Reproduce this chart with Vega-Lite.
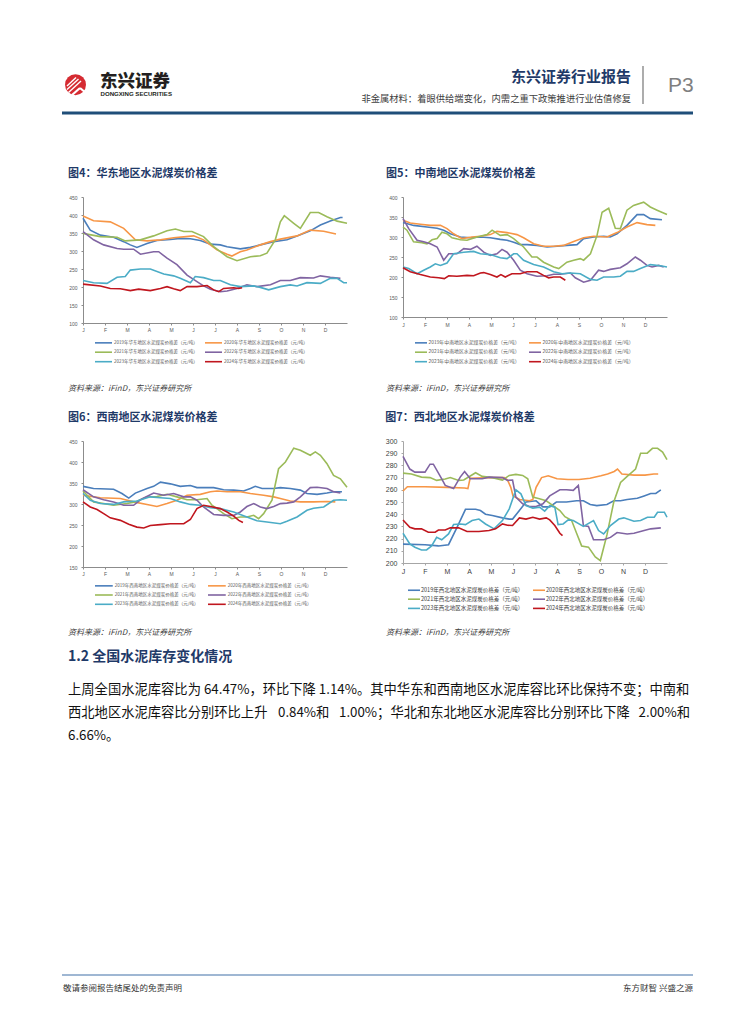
{
 "$schema": "https://vega.github.io/schema/vega-lite/v6.json",
 "padding": 0,
 "background": "white",
 "columns": 2,
 "spacing": {"row": 118, "column": 56},
 "bounds": "flush",
 "resolve": {"scale": {"color": "independent", "strokeWidth": "independent"}, "legend": {"color": "independent", "strokeWidth": "independent"}},
 "config": {"view": {"stroke": null}, "font": "Noto Sans CJK SC"},
 "datasets": {
  "d4": [
   {"year":"2019","month":0,"value":391},{"year":"2019","month":0.33,"value":358},{"year":"2019","month":0.79,"value":344},{"year":"2019","month":1.39,"value":338},{"year":"2019","month":1.85,"value":326},{"year":"2019","month":2.15,"value":317},{"year":"2019","month":2.45,"value":310},{"year":"2019","month":2.91,"value":321},{"year":"2019","month":3.36,"value":329},{"year":"2019","month":3.97,"value":332},{"year":"2019","month":4.42,"value":335},{"year":"2019","month":4.88,"value":334},{"year":"2019","month":5.33,"value":329},{"year":"2019","month":5.79,"value":319},{"year":"2019","month":6.24,"value":317},{"year":"2019","month":6.55,"value":312},{"year":"2019","month":7.15,"value":306},{"year":"2019","month":7.61,"value":310},{"year":"2019","month":8.06,"value":317},{"year":"2019","month":8.67,"value":326},{"year":"2019","month":9.27,"value":331},{"year":"2019","month":9.73,"value":342},{"year":"2019","month":10.33,"value":356},{"year":"2019","month":10.79,"value":372},{"year":"2019","month":11.24,"value":383},{"year":"2019","month":11.7,"value":393},{"year":"2019","month":11.8,"value":393},
   {"year":"2020","month":0,"value":397},{"year":"2020","month":0.48,"value":384},{"year":"2020","month":1.24,"value":381},{"year":"2020","month":1.85,"value":363},{"year":"2020","month":2.38,"value":331},{"year":"2020","month":2.91,"value":328},{"year":"2020","month":3.52,"value":331},{"year":"2020","month":4.12,"value":337},{"year":"2020","month":5.03,"value":342},{"year":"2020","month":5.48,"value":331},{"year":"2020","month":6.09,"value":303},{"year":"2020","month":6.55,"value":291},{"year":"2020","month":6.77,"value":286},{"year":"2020","month":7.15,"value":298},{"year":"2020","month":7.45,"value":303},{"year":"2020","month":8.06,"value":317},{"year":"2020","month":8.52,"value":326},{"year":"2020","month":8.97,"value":333},{"year":"2020","month":9.73,"value":342},{"year":"2020","month":10.33,"value":358},{"year":"2020","month":10.94,"value":355},{"year":"2020","month":11.5,"value":347},
   {"year":"2021","month":0,"value":349},{"year":"2021","month":0.79,"value":340},{"year":"2021","month":1.55,"value":338},{"year":"2021","month":1.92,"value":328},{"year":"2021","month":2.61,"value":331},{"year":"2021","month":3.21,"value":342},{"year":"2021","month":3.82,"value":356},{"year":"2021","month":4.2,"value":361},{"year":"2021","month":4.58,"value":354},{"year":"2021","month":4.95,"value":354},{"year":"2021","month":5.48,"value":340},{"year":"2021","month":5.94,"value":312},{"year":"2021","month":6.55,"value":284},{"year":"2021","month":7.0,"value":273},{"year":"2021","month":7.61,"value":284},{"year":"2021","month":8.06,"value":287},{"year":"2021","month":8.36,"value":294},{"year":"2021","month":8.74,"value":331},{"year":"2021","month":8.97,"value":381},{"year":"2021","month":9.15,"value":398},{"year":"2021","month":9.58,"value":377},{"year":"2021","month":9.88,"value":363},{"year":"2021","month":10.33,"value":407},{"year":"2021","month":10.71,"value":407},{"year":"2021","month":11.09,"value":395},{"year":"2021","month":11.55,"value":383},{"year":"2021","month":12,"value":377},
   {"year":"2022","month":0,"value":354},{"year":"2022","month":0.48,"value":331},{"year":"2022","month":0.94,"value":317},{"year":"2022","month":1.55,"value":307},{"year":"2022","month":1.85,"value":305},{"year":"2022","month":2.3,"value":305},{"year":"2022","month":2.61,"value":291},{"year":"2022","month":3.21,"value":298},{"year":"2022","month":3.44,"value":298},{"year":"2022","month":3.82,"value":280},{"year":"2022","month":4.27,"value":262},{"year":"2022","month":4.73,"value":233},{"year":"2022","month":5.18,"value":215},{"year":"2022","month":5.48,"value":203},{"year":"2022","month":5.79,"value":194},{"year":"2022","month":6.24,"value":187},{"year":"2022","month":6.55,"value":189},{"year":"2022","month":7.0,"value":196},{"year":"2022","month":7.45,"value":206},{"year":"2022","month":7.91,"value":201},{"year":"2022","month":8.52,"value":206},{"year":"2022","month":8.97,"value":218},{"year":"2022","month":9.42,"value":218},{"year":"2022","month":9.88,"value":226},{"year":"2022","month":10.48,"value":225},{"year":"2022","month":10.79,"value":231},{"year":"2022","month":11.24,"value":227},{"year":"2022","month":11.7,"value":224},
   {"year":"2023","month":0,"value":218},{"year":"2023","month":0.48,"value":212},{"year":"2023","month":1.09,"value":210},{"year":"2023","month":1.55,"value":227},{"year":"2023","month":1.92,"value":229},{"year":"2023","month":2.15,"value":247},{"year":"2023","month":2.61,"value":250},{"year":"2023","month":3.06,"value":250},{"year":"2023","month":3.67,"value":236},{"year":"2023","month":4.12,"value":231},{"year":"2023","month":4.42,"value":224},{"year":"2023","month":4.88,"value":212},{"year":"2023","month":5.1,"value":229},{"year":"2023","month":5.48,"value":226},{"year":"2023","month":5.94,"value":218},{"year":"2023","month":6.24,"value":218},{"year":"2023","month":6.7,"value":206},{"year":"2023","month":7.15,"value":201},{"year":"2023","month":7.76,"value":203},{"year":"2023","month":8.06,"value":199},{"year":"2023","month":8.44,"value":192},{"year":"2023","month":8.97,"value":201},{"year":"2023","month":9.42,"value":206},{"year":"2023","month":9.73,"value":203},{"year":"2023","month":10.18,"value":212},{"year":"2023","month":10.79,"value":210},{"year":"2023","month":11.24,"value":224},{"year":"2023","month":11.55,"value":224},{"year":"2023","month":11.85,"value":212},{"year":"2023","month":12,"value":212},
   {"year":"2024","month":0,"value":208},{"year":"2024","month":0.79,"value":203},{"year":"2024","month":1.24,"value":196},{"year":"2024","month":1.7,"value":195},{"year":"2024","month":2.15,"value":190},{"year":"2024","month":2.53,"value":194},{"year":"2024","month":3.06,"value":190},{"year":"2024","month":3.52,"value":196},{"year":"2024","month":3.82,"value":201},{"year":"2024","month":4.12,"value":195},{"year":"2024","month":4.42,"value":190},{"year":"2024","month":4.73,"value":201},{"year":"2024","month":5.18,"value":201},{"year":"2024","month":5.64,"value":204},{"year":"2024","month":5.94,"value":192},{"year":"2024","month":6.17,"value":187},{"year":"2024","month":6.39,"value":196},{"year":"2024","month":6.85,"value":198},{"year":"2024","month":7.08,"value":196},{"year":"2024","month":7.23,"value":198}
  ],
  "d5": [
   {"year":"2019","month":0,"value":336},{"year":"2019","month":0.48,"value":329},{"year":"2019","month":1.09,"value":325},{"year":"2019","month":1.55,"value":322},{"year":"2019","month":1.85,"value":317},{"year":"2019","month":2.15,"value":308},{"year":"2019","month":2.61,"value":300},{"year":"2019","month":3.06,"value":298},{"year":"2019","month":3.52,"value":300},{"year":"2019","month":3.97,"value":298},{"year":"2019","month":4.42,"value":294},{"year":"2019","month":4.73,"value":292},{"year":"2019","month":5.03,"value":287},{"year":"2019","month":5.33,"value":281},{"year":"2019","month":5.64,"value":281},{"year":"2019","month":6.09,"value":279},{"year":"2019","month":6.55,"value":275},{"year":"2019","month":7.0,"value":277},{"year":"2019","month":7.45,"value":279},{"year":"2019","month":7.91,"value":281},{"year":"2019","month":8.21,"value":296},{"year":"2019","month":8.67,"value":300},{"year":"2019","month":9.12,"value":302},{"year":"2019","month":9.42,"value":300},{"year":"2019","month":9.73,"value":308},{"year":"2019","month":10.18,"value":329},{"year":"2019","month":10.64,"value":356},{"year":"2019","month":10.94,"value":356},{"year":"2019","month":11.24,"value":346},{"year":"2019","month":11.77,"value":343},
   {"year":"2020","month":0,"value":342},{"year":"2020","month":0.33,"value":335},{"year":"2020","month":0.79,"value":332},{"year":"2020","month":1.24,"value":329},{"year":"2020","month":1.7,"value":329},{"year":"2020","month":2.0,"value":321},{"year":"2020","month":2.3,"value":308},{"year":"2020","month":2.68,"value":296},{"year":"2020","month":3.14,"value":300},{"year":"2020","month":3.52,"value":302},{"year":"2020","month":3.97,"value":306},{"year":"2020","month":4.27,"value":314},{"year":"2020","month":4.73,"value":311},{"year":"2020","month":5.18,"value":306},{"year":"2020","month":5.48,"value":298},{"year":"2020","month":5.94,"value":283},{"year":"2020","month":6.39,"value":277},{"year":"2020","month":6.85,"value":277},{"year":"2020","month":7.3,"value":279},{"year":"2020","month":7.76,"value":289},{"year":"2020","month":8.21,"value":298},{"year":"2020","month":8.67,"value":302},{"year":"2020","month":9.27,"value":300},{"year":"2020","month":9.73,"value":311},{"year":"2020","month":10.18,"value":325},{"year":"2020","month":10.64,"value":336},{"year":"2020","month":11.09,"value":331},{"year":"2020","month":11.47,"value":329},
   {"year":"2021","month":0,"value":325},{"year":"2021","month":0.18,"value":317},{"year":"2021","month":0.48,"value":288},{"year":"2021","month":0.86,"value":286},{"year":"2021","month":1.09,"value":283},{"year":"2021","month":1.32,"value":293},{"year":"2021","month":1.55,"value":296},{"year":"2021","month":1.77,"value":312},{"year":"2021","month":2.0,"value":308},{"year":"2021","month":2.23,"value":298},{"year":"2021","month":2.61,"value":293},{"year":"2021","month":2.91,"value":292},{"year":"2021","month":3.36,"value":300},{"year":"2021","month":3.82,"value":306},{"year":"2021","month":4.05,"value":317},{"year":"2021","month":4.42,"value":304},{"year":"2021","month":4.73,"value":306},{"year":"2021","month":5.03,"value":296},{"year":"2021","month":5.48,"value":275},{"year":"2021","month":5.86,"value":250},{"year":"2021","month":6.09,"value":250},{"year":"2021","month":6.39,"value":237},{"year":"2021","month":6.85,"value":225},{"year":"2021","month":7.08,"value":221},{"year":"2021","month":7.45,"value":237},{"year":"2021","month":7.76,"value":242},{"year":"2021","month":8.06,"value":246},{"year":"2021","month":8.21,"value":242},{"year":"2021","month":8.52,"value":258},{"year":"2021","month":8.82,"value":304},{"year":"2021","month":9.05,"value":362},{"year":"2021","month":9.35,"value":372},{"year":"2021","month":9.65,"value":322},{"year":"2021","month":9.88,"value":321},{"year":"2021","month":10.18,"value":367},{"year":"2021","month":10.48,"value":379},{"year":"2021","month":10.94,"value":387},{"year":"2021","month":11.24,"value":375},{"year":"2021","month":11.55,"value":367},{"year":"2021","month":12,"value":356},
   {"year":"2022","month":0,"value":346},{"year":"2022","month":0.26,"value":321},{"year":"2022","month":0.64,"value":292},{"year":"2022","month":0.94,"value":288},{"year":"2022","month":1.24,"value":283},{"year":"2022","month":1.55,"value":275},{"year":"2022","month":1.85,"value":242},{"year":"2022","month":2.08,"value":258},{"year":"2022","month":2.45,"value":258},{"year":"2022","month":2.76,"value":271},{"year":"2022","month":3.06,"value":269},{"year":"2022","month":3.36,"value":277},{"year":"2022","month":3.67,"value":262},{"year":"2022","month":3.97,"value":254},{"year":"2022","month":4.27,"value":258},{"year":"2022","month":4.5,"value":269},{"year":"2022","month":4.73,"value":262},{"year":"2022","month":5.03,"value":242},{"year":"2022","month":5.33,"value":217},{"year":"2022","month":5.64,"value":208},{"year":"2022","month":6.09,"value":202},{"year":"2022","month":6.55,"value":203},{"year":"2022","month":6.85,"value":207},{"year":"2022","month":7.15,"value":207},{"year":"2022","month":7.61,"value":210},{"year":"2022","month":7.83,"value":198},{"year":"2022","month":8.21,"value":187},{"year":"2022","month":8.52,"value":192},{"year":"2022","month":8.89,"value":217},{"year":"2022","month":9.12,"value":214},{"year":"2022","month":9.42,"value":219},{"year":"2022","month":9.88,"value":223},{"year":"2022","month":10.18,"value":233},{"year":"2022","month":10.56,"value":250},{"year":"2022","month":10.79,"value":242},{"year":"2022","month":11.09,"value":229},{"year":"2022","month":11.32,"value":225},{"year":"2022","month":11.62,"value":229},{"year":"2022","month":11.85,"value":225},
   {"year":"2023","month":0,"value":225},{"year":"2023","month":0.26,"value":221},{"year":"2023","month":0.64,"value":208},{"year":"2023","month":0.94,"value":217},{"year":"2023","month":1.24,"value":225},{"year":"2023","month":1.47,"value":233},{"year":"2023","month":1.7,"value":229},{"year":"2023","month":2.0,"value":235},{"year":"2023","month":2.3,"value":258},{"year":"2023","month":2.76,"value":262},{"year":"2023","month":3.21,"value":264},{"year":"2023","month":3.52,"value":258},{"year":"2023","month":3.97,"value":256},{"year":"2023","month":4.42,"value":248},{"year":"2023","month":4.73,"value":246},{"year":"2023","month":5.03,"value":258},{"year":"2023","month":5.18,"value":258},{"year":"2023","month":5.48,"value":242},{"year":"2023","month":5.94,"value":231},{"year":"2023","month":6.39,"value":225},{"year":"2023","month":6.85,"value":213},{"year":"2023","month":7.23,"value":208},{"year":"2023","month":7.61,"value":210},{"year":"2023","month":8.06,"value":208},{"year":"2023","month":8.52,"value":194},{"year":"2023","month":8.82,"value":192},{"year":"2023","month":9.12,"value":200},{"year":"2023","month":9.58,"value":200},{"year":"2023","month":9.88,"value":202},{"year":"2023","month":10.18,"value":214},{"year":"2023","month":10.48,"value":214},{"year":"2023","month":10.79,"value":221},{"year":"2023","month":11.24,"value":231},{"year":"2023","month":11.7,"value":228},{"year":"2023","month":12,"value":225},
   {"year":"2024","month":0,"value":223},{"year":"2024","month":0.33,"value":213},{"year":"2024","month":0.79,"value":206},{"year":"2024","month":1.24,"value":200},{"year":"2024","month":1.62,"value":198},{"year":"2024","month":1.88,"value":196},{"year":"2024","month":2.08,"value":203},{"year":"2024","month":2.45,"value":202},{"year":"2024","month":2.91,"value":204},{"year":"2024","month":3.21,"value":203},{"year":"2024","month":3.52,"value":210},{"year":"2024","month":3.67,"value":211},{"year":"2024","month":3.97,"value":206},{"year":"2024","month":4.27,"value":200},{"year":"2024","month":4.45,"value":206},{"year":"2024","month":4.65,"value":200},{"year":"2024","month":4.95,"value":208},{"year":"2024","month":5.33,"value":208},{"year":"2024","month":5.64,"value":213},{"year":"2024","month":6.09,"value":213},{"year":"2024","month":6.39,"value":204},{"year":"2024","month":6.62,"value":198},{"year":"2024","month":6.85,"value":200},{"year":"2024","month":7.15,"value":200},{"year":"2024","month":7.38,"value":192}
  ],
  "d6": [
   {"year":"2019","month":0,"value":342},{"year":"2019","month":0.48,"value":337},{"year":"2019","month":1.39,"value":335},{"year":"2019","month":1.77,"value":325},{"year":"2019","month":2.08,"value":314},{"year":"2019","month":2.38,"value":326},{"year":"2019","month":2.91,"value":337},{"year":"2019","month":3.21,"value":342},{"year":"2019","month":3.52,"value":352},{"year":"2019","month":3.97,"value":348},{"year":"2019","month":4.42,"value":342},{"year":"2019","month":4.88,"value":344},{"year":"2019","month":5.18,"value":339},{"year":"2019","month":5.94,"value":339},{"year":"2019","month":6.39,"value":334},{"year":"2019","month":6.85,"value":333},{"year":"2019","month":7.3,"value":331},{"year":"2019","month":7.61,"value":337},{"year":"2019","month":7.83,"value":342},{"year":"2019","month":8.14,"value":337},{"year":"2019","month":8.67,"value":337},{"year":"2019","month":8.97,"value":339},{"year":"2019","month":9.42,"value":337},{"year":"2019","month":9.88,"value":333},{"year":"2019","month":10.18,"value":325},{"year":"2019","month":10.64,"value":323},{"year":"2019","month":11.09,"value":326},{"year":"2019","month":11.39,"value":329},{"year":"2019","month":11.77,"value":329},
   {"year":"2020","month":0,"value":321},{"year":"2020","month":0.79,"value":315},{"year":"2020","month":1.7,"value":313},{"year":"2020","month":2.3,"value":305},{"year":"2020","month":2.91,"value":299},{"year":"2020","month":3.36,"value":294},{"year":"2020","month":3.82,"value":301},{"year":"2020","month":4.27,"value":309},{"year":"2020","month":4.73,"value":321},{"year":"2020","month":5.33,"value":323},{"year":"2020","month":5.79,"value":329},{"year":"2020","month":6.09,"value":331},{"year":"2020","month":6.55,"value":329},{"year":"2020","month":7.15,"value":329},{"year":"2020","month":7.61,"value":325},{"year":"2020","month":8.21,"value":321},{"year":"2020","month":8.67,"value":317},{"year":"2020","month":8.97,"value":313},{"year":"2020","month":9.42,"value":307},{"year":"2020","month":9.88,"value":305},{"year":"2020","month":10.48,"value":305},{"year":"2020","month":11.09,"value":306},{"year":"2020","month":11.47,"value":305},
   {"year":"2021","month":0,"value":331},{"year":"2021","month":0.48,"value":305},{"year":"2021","month":1.39,"value":297},{"year":"2021","month":2.0,"value":301},{"year":"2021","month":2.38,"value":305},{"year":"2021","month":2.91,"value":317},{"year":"2021","month":3.36,"value":318},{"year":"2021","month":3.82,"value":323},{"year":"2021","month":4.27,"value":317},{"year":"2021","month":4.73,"value":310},{"year":"2021","month":5.18,"value":310},{"year":"2021","month":5.64,"value":313},{"year":"2021","month":5.86,"value":297},{"year":"2021","month":6.09,"value":289},{"year":"2021","month":6.39,"value":277},{"year":"2021","month":6.77,"value":265},{"year":"2021","month":7.15,"value":269},{"year":"2021","month":7.45,"value":269},{"year":"2021","month":7.76,"value":273},{"year":"2021","month":7.98,"value":265},{"year":"2021","month":8.21,"value":277},{"year":"2021","month":8.59,"value":309},{"year":"2021","month":8.89,"value":384},{"year":"2021","month":9.2,"value":400},{"year":"2021","month":9.58,"value":433},{"year":"2021","month":9.88,"value":428},{"year":"2021","month":10.33,"value":416},{"year":"2021","month":10.56,"value":424},{"year":"2021","month":10.79,"value":416},{"year":"2021","month":11.09,"value":396},{"year":"2021","month":11.39,"value":368},{"year":"2021","month":11.7,"value":360},{"year":"2021","month":12,"value":340},
   {"year":"2022","month":0,"value":334},{"year":"2022","month":0.48,"value":317},{"year":"2022","month":0.94,"value":310},{"year":"2022","month":1.39,"value":305},{"year":"2022","month":1.85,"value":297},{"year":"2022","month":2.3,"value":297},{"year":"2022","month":2.61,"value":310},{"year":"2022","month":3.21,"value":326},{"year":"2022","month":3.67,"value":321},{"year":"2022","month":4.12,"value":325},{"year":"2022","month":4.58,"value":317},{"year":"2022","month":4.88,"value":317},{"year":"2022","month":5.18,"value":309},{"year":"2022","month":5.48,"value":293},{"year":"2022","month":5.94,"value":275},{"year":"2022","month":6.39,"value":273},{"year":"2022","month":6.85,"value":273},{"year":"2022","month":7.15,"value":281},{"year":"2022","month":7.45,"value":294},{"year":"2022","month":7.76,"value":301},{"year":"2022","month":8.06,"value":293},{"year":"2022","month":8.36,"value":289},{"year":"2022","month":8.67,"value":294},{"year":"2022","month":8.97,"value":301},{"year":"2022","month":9.27,"value":302},{"year":"2022","month":9.58,"value":305},{"year":"2022","month":9.88,"value":317},{"year":"2022","month":10.33,"value":339},{"year":"2022","month":10.64,"value":340},{"year":"2022","month":11.09,"value":337},{"year":"2022","month":11.39,"value":329},{"year":"2022","month":11.7,"value":326},
   {"year":"2023","month":0,"value":325},{"year":"2023","month":0.33,"value":309},{"year":"2023","month":0.79,"value":301},{"year":"2023","month":1.39,"value":299},{"year":"2023","month":1.85,"value":305},{"year":"2023","month":2.45,"value":307},{"year":"2023","month":3.06,"value":317},{"year":"2023","month":3.52,"value":315},{"year":"2023","month":3.97,"value":313},{"year":"2023","month":4.42,"value":305},{"year":"2023","month":4.88,"value":299},{"year":"2023","month":5.33,"value":297},{"year":"2023","month":5.79,"value":291},{"year":"2023","month":6.24,"value":289},{"year":"2023","month":6.85,"value":281},{"year":"2023","month":7.45,"value":269},{"year":"2023","month":7.91,"value":260},{"year":"2023","month":8.36,"value":257},{"year":"2023","month":8.97,"value":253},{"year":"2023","month":9.27,"value":259},{"year":"2023","month":9.73,"value":269},{"year":"2023","month":10.18,"value":285},{"year":"2023","month":10.48,"value":290},{"year":"2023","month":10.94,"value":293},{"year":"2023","month":11.39,"value":309},{"year":"2023","month":11.7,"value":310},{"year":"2023","month":12,"value":309},
   {"year":"2024","month":0,"value":305},{"year":"2024","month":0.33,"value":293},{"year":"2024","month":0.64,"value":287},{"year":"2024","month":0.94,"value":277},{"year":"2024","month":1.24,"value":267},{"year":"2024","month":1.7,"value":261},{"year":"2024","month":2.08,"value":252},{"year":"2024","month":2.45,"value":245},{"year":"2024","month":2.76,"value":243},{"year":"2024","month":3.06,"value":249},{"year":"2024","month":3.52,"value":251},{"year":"2024","month":3.97,"value":253},{"year":"2024","month":4.58,"value":253},{"year":"2024","month":4.88,"value":263},{"year":"2024","month":5.18,"value":289},{"year":"2024","month":5.48,"value":297},{"year":"2024","month":5.79,"value":294},{"year":"2024","month":6.24,"value":289},{"year":"2024","month":6.55,"value":281},{"year":"2024","month":6.85,"value":271},{"year":"2024","month":7.08,"value":261},{"year":"2024","month":7.27,"value":256}
  ],
  "d7": [
   {"year":"2019","month":0,"value":215.5},{"year":"2019","month":1.0,"value":215},{"year":"2019","month":1.61,"value":214},{"year":"2019","month":2.07,"value":215},{"year":"2019","month":2.45,"value":229},{"year":"2019","month":2.84,"value":244},{"year":"2019","month":3.3,"value":244},{"year":"2019","month":3.52,"value":243},{"year":"2019","month":3.75,"value":240},{"year":"2019","month":4.06,"value":239},{"year":"2019","month":4.52,"value":237},{"year":"2019","month":4.83,"value":236},{"year":"2019","month":4.98,"value":236},{"year":"2019","month":5.29,"value":243},{"year":"2019","month":5.59,"value":250},{"year":"2019","month":6.05,"value":251},{"year":"2019","month":6.36,"value":246},{"year":"2019","month":6.67,"value":246},{"year":"2019","month":6.97,"value":250},{"year":"2019","month":7.43,"value":250},{"year":"2019","month":7.89,"value":251},{"year":"2019","month":8.2,"value":251},{"year":"2019","month":8.51,"value":248},{"year":"2019","month":8.81,"value":247},{"year":"2019","month":9.27,"value":248},{"year":"2019","month":9.58,"value":251},{"year":"2019","month":9.89,"value":251},{"year":"2019","month":10.19,"value":252},{"year":"2019","month":10.65,"value":253},{"year":"2019","month":10.96,"value":255},{"year":"2019","month":11.26,"value":257},{"year":"2019","month":11.49,"value":257},{"year":"2019","month":11.72,"value":260},
   {"year":"2020","month":0,"value":259},{"year":"2020","month":0.2,"value":262.5},{"year":"2020","month":1,"value":262.5},{"year":"2020","month":2,"value":262},{"year":"2020","month":2.8,"value":261.5},{"year":"2020","month":2.95,"value":261},{"year":"2020","month":3.05,"value":269.5},{"year":"2020","month":4,"value":270},{"year":"2020","month":4.6,"value":270},{"year":"2020","month":4.75,"value":268},{"year":"2020","month":4.9,"value":262},{"year":"2020","month":5.0,"value":255},{"year":"2020","month":5.3,"value":252},{"year":"2020","month":5.75,"value":251},{"year":"2020","month":5.9,"value":252},{"year":"2020","month":6.05,"value":262},{"year":"2020","month":6.3,"value":270},{"year":"2020","month":6.6,"value":271.5},{"year":"2020","month":7,"value":269},{"year":"2020","month":7.5,"value":268.5},{"year":"2020","month":8,"value":268.5},{"year":"2020","month":8.5,"value":269.5},{"year":"2020","month":9,"value":271.5},{"year":"2020","month":9.3,"value":273},{"year":"2020","month":9.6,"value":275},{"year":"2020","month":9.75,"value":277},{"year":"2020","month":9.95,"value":273},{"year":"2020","month":10.5,"value":272},{"year":"2020","month":11,"value":272},{"year":"2020","month":11.4,"value":273},{"year":"2020","month":11.6,"value":273},
   {"year":"2021","month":0,"value":273.7},{"year":"2021","month":0.38,"value":273},{"year":"2021","month":0.84,"value":270.4},{"year":"2021","month":1.23,"value":270},{"year":"2021","month":1.53,"value":267.7},{"year":"2021","month":1.92,"value":268.8},{"year":"2021","month":2.15,"value":270},{"year":"2021","month":2.53,"value":267.7},{"year":"2021","month":2.76,"value":268},{"year":"2021","month":3.3,"value":274},{"year":"2021","month":3.6,"value":271},{"year":"2021","month":4.06,"value":270},{"year":"2021","month":4.52,"value":268},{"year":"2021","month":4.83,"value":271.8},{"year":"2021","month":5.13,"value":272.6},{"year":"2021","month":5.44,"value":271.8},{"year":"2021","month":5.67,"value":269},{"year":"2021","month":5.9,"value":254},{"year":"2021","month":6.2,"value":252.6},{"year":"2021","month":6.51,"value":251},{"year":"2021","month":6.82,"value":247},{"year":"2021","month":7.13,"value":243},{"year":"2021","month":7.36,"value":238},{"year":"2021","month":7.66,"value":235},{"year":"2021","month":7.9,"value":224},{"year":"2021","month":8.12,"value":214},{"year":"2021","month":8.43,"value":213},{"year":"2021","month":8.74,"value":205},{"year":"2021","month":8.97,"value":202},{"year":"2021","month":9.27,"value":223},{"year":"2021","month":9.58,"value":250},{"year":"2021","month":9.89,"value":266},{"year":"2021","month":10.19,"value":271},{"year":"2021","month":10.57,"value":277},{"year":"2021","month":10.8,"value":290},{"year":"2021","month":11.1,"value":290},{"year":"2021","month":11.34,"value":294},{"year":"2021","month":11.57,"value":294},{"year":"2021","month":11.8,"value":291},{"year":"2021","month":12,"value":284.7},
   {"year":"2022","month":0,"value":287.4},{"year":"2022","month":0.31,"value":277},{"year":"2022","month":0.54,"value":274.5},{"year":"2022","month":1.0,"value":274.5},{"year":"2022","month":1.23,"value":281},{"year":"2022","month":1.38,"value":281},{"year":"2022","month":1.76,"value":269},{"year":"2022","month":1.92,"value":263.6},{"year":"2022","month":2.3,"value":261},{"year":"2022","month":2.6,"value":270.4},{"year":"2022","month":2.8,"value":275},{"year":"2022","month":3.06,"value":269},{"year":"2022","month":3.6,"value":269},{"year":"2022","month":3.91,"value":270.4},{"year":"2022","month":4.52,"value":270},{"year":"2022","month":4.75,"value":267.7},{"year":"2022","month":4.98,"value":268},{"year":"2022","month":5.13,"value":254},{"year":"2022","month":5.44,"value":248.5},{"year":"2022","month":5.75,"value":246.3},{"year":"2022","month":6.05,"value":246.3},{"year":"2022","month":6.36,"value":248.5},{"year":"2022","month":6.67,"value":255},{"year":"2022","month":7.13,"value":260},{"year":"2022","month":7.43,"value":260},{"year":"2022","month":7.74,"value":259.5},{"year":"2022","month":7.97,"value":263.6},{"year":"2022","month":8.2,"value":230.7},{"year":"2022","month":8.43,"value":230},{"year":"2022","month":8.66,"value":219},{"year":"2022","month":9.12,"value":219},{"year":"2022","month":9.43,"value":221},{"year":"2022","month":9.73,"value":225},{"year":"2022","month":10.19,"value":223.8},{"year":"2022","month":10.5,"value":224.4},{"year":"2022","month":10.96,"value":226.6},{"year":"2022","month":11.26,"value":228},{"year":"2022","month":11.72,"value":228.8},
   {"year":"2023","month":0,"value":224.4},{"year":"2023","month":0.31,"value":215.6},{"year":"2023","month":0.54,"value":212.9},{"year":"2023","month":0.84,"value":210.7},{"year":"2023","month":1.07,"value":210.7},{"year":"2023","month":1.3,"value":214},{"year":"2023","month":1.53,"value":221},{"year":"2023","month":1.76,"value":219},{"year":"2023","month":2.07,"value":223.8},{"year":"2023","month":2.3,"value":231.5},{"year":"2023","month":2.61,"value":232},{"year":"2023","month":2.84,"value":231.5},{"year":"2023","month":3.14,"value":234.8},{"year":"2023","month":3.45,"value":236},{"year":"2023","month":3.75,"value":232},{"year":"2023","month":4.14,"value":228},{"year":"2023","month":4.52,"value":234.8},{"year":"2023","month":4.83,"value":244.4},{"year":"2023","month":5.13,"value":260},{"year":"2023","month":5.36,"value":256.7},{"year":"2023","month":5.59,"value":247},{"year":"2023","month":5.9,"value":245},{"year":"2023","month":6.21,"value":245.8},{"year":"2023","month":6.44,"value":242.5},{"year":"2023","month":6.67,"value":247},{"year":"2023","month":6.9,"value":245.8},{"year":"2023","month":7.05,"value":231.5},{"year":"2023","month":7.28,"value":232},{"year":"2023","month":7.51,"value":235.3},{"year":"2023","month":7.74,"value":234.8},{"year":"2023","month":8.2,"value":230},{"year":"2023","month":8.66,"value":234.8},{"year":"2023","month":8.89,"value":226.6},{"year":"2023","month":9.12,"value":223.8},{"year":"2023","month":9.43,"value":230.7},{"year":"2023","month":9.81,"value":236},{"year":"2023","month":10.04,"value":237},{"year":"2023","month":10.5,"value":234.2},{"year":"2023","month":10.8,"value":234.8},{"year":"2023","month":11.11,"value":237.5},{"year":"2023","month":11.42,"value":237.5},{"year":"2023","month":11.57,"value":241.6},{"year":"2023","month":11.88,"value":241.6},{"year":"2023","month":12,"value":237.5},
   {"year":"2024","month":0,"value":235.3},{"year":"2024","month":0.31,"value":229.3},{"year":"2024","month":0.54,"value":228},{"year":"2024","month":0.84,"value":228},{"year":"2024","month":1.15,"value":225.2},{"year":"2024","month":1.46,"value":225.2},{"year":"2024","month":1.61,"value":227},{"year":"2024","month":1.92,"value":227},{"year":"2024","month":2.15,"value":228.8},{"year":"2024","month":2.53,"value":228.8},{"year":"2024","month":2.91,"value":225.8},{"year":"2024","month":3.45,"value":225.8},{"year":"2024","month":3.91,"value":226.6},{"year":"2024","month":4.21,"value":228},{"year":"2024","month":4.52,"value":232},{"year":"2024","month":4.75,"value":231},{"year":"2024","month":4.98,"value":230.7},{"year":"2024","month":5.29,"value":237},{"year":"2024","month":5.59,"value":236},{"year":"2024","month":5.9,"value":237.5},{"year":"2024","month":6.21,"value":236},{"year":"2024","month":6.51,"value":237},{"year":"2024","month":6.67,"value":235.3},{"year":"2024","month":6.9,"value":230.7},{"year":"2024","month":7.13,"value":224.4},{"year":"2024","month":7.25,"value":222.5}
  ]
 },
 "concat": [
  {
   "width": 264, "height": 79,
   "data": {"values": [{}]},
   "layer": [
    {"mark": {"type": "rect", "fill": "white"}, "encoding": {"x": {"value": -83}, "x2": {"value": 672}, "y": {"value": 0}, "y2": {"value": 1024}}},
    {"mark": {"type": "point", "shape": "circle", "filled": true, "size": 441, "color": "#D52B32", "opacity": 1}, "encoding": {"x": {"value": -7.5}, "y": {"value": 84.7}}},
    {"mark": {"type": "rule", "color": "white", "strokeWidth": 1.4}, "encoding": {"x": {"value": -16}, "y": {"value": 86}, "x2": {"value": -7}, "y2": {"value": 77.5}}},
    {"mark": {"type": "rule", "color": "white", "strokeWidth": 1.4}, "encoding": {"x": {"value": -16}, "y": {"value": 89.5}, "x2": {"value": -4.5}, "y2": {"value": 79}}},
    {"mark": {"type": "rule", "color": "white", "strokeWidth": 1.4}, "encoding": {"x": {"value": -14.5}, "y": {"value": 92.5}, "x2": {"value": -2}, "y2": {"value": 81}}},
    {"mark": {"type": "rule", "color": "white", "strokeWidth": 2.2}, "encoding": {"x": {"value": -11}, "y": {"value": 95}, "x2": {"value": -3}, "y2": {"value": 88}}},
    {"mark": {"type": "rule", "color": "white", "strokeWidth": 2.2}, "encoding": {"x": {"value": -3}, "y": {"value": 88}, "x2": {"value": 3}, "y2": {"value": 93}}},
    {"data": {"values": [{"t": "东兴证券"}]}, "mark": {"type": "text", "align": "left", "baseline": "alphabetic", "fontSize": 17.5, "fontWeight": 900, "color": "#231F20", "font": "Noto Sans CJK SC"}, "encoding": {"x": {"value": 17}, "y": {"value": 86.5}, "text": {"field": "t"}}},
    {"data": {"values": [{"t": "DONGXING SECURITIES"}]}, "mark": {"type": "text", "align": "left", "baseline": "alphabetic", "fontSize": 6.1, "fontWeight": "bold", "color": "#231F20", "font": "Liberation Sans"}, "encoding": {"x": {"value": 17.5}, "y": {"value": 96.3}, "text": {"field": "t"}}},
    {"mark": {"type": "rule", "color": "#1F4E79", "strokeWidth": 3}, "encoding": {"x": {"value": -21}, "x2": {"value": 610}, "y": {"value": 113}, "y2": {"value": 113}}},
    {"data": {"values": [{"t": "1.2 全国水泥库存变化情况"}]}, "mark": {"type": "text", "align": "left", "baseline": "middle", "fontSize": 14, "fontWeight": "bold", "color": "#1F3A68", "font": "Noto Sans CJK SC"}, "encoding": {"x": {"value": -15}, "y": {"value": 657}, "text": {"field": "t"}}},
    {"data": {"values": [{"t": "上周全国水泥库容比为 64.47%，环比下降 1.14%。其中华东和西南地区水泥库容比环比保持不变；中南和"}]}, "mark": {"type": "text", "align": "left", "baseline": "middle", "fontSize": 13.3, "color": "#111111", "font": "Noto Sans CJK SC"}, "encoding": {"x": {"value": -15}, "y": {"value": 690}, "text": {"field": "t"}}},
    {"data": {"values": [{"t": "西北地区水泥库容比分别环比上升"}]}, "mark": {"type": "text", "align": "left", "baseline": "middle", "fontSize": 13.3, "color": "#111111", "font": "Noto Sans CJK SC"}, "encoding": {"x": {"value": -15}, "y": {"value": 713}, "text": {"field": "t"}}},
    {"data": {"values": [{"t": "0.84%和"}]}, "mark": {"type": "text", "align": "left", "baseline": "middle", "fontSize": 13.3, "color": "#111111", "font": "Noto Sans CJK SC"}, "encoding": {"x": {"value": 195}, "y": {"value": 713}, "text": {"field": "t"}}},
    {"data": {"values": [{"t": "1.00%；华北和东北地区水泥库容比分别环比下降"}]}, "mark": {"type": "text", "align": "left", "baseline": "middle", "fontSize": 13.3, "color": "#111111", "font": "Noto Sans CJK SC"}, "encoding": {"x": {"value": 256}, "y": {"value": 713}, "text": {"field": "t"}}},
    {"data": {"values": [{"t": "2.00%和"}]}, "mark": {"type": "text", "align": "right", "baseline": "middle", "fontSize": 13.3, "color": "#111111", "font": "Noto Sans CJK SC"}, "encoding": {"x": {"value": 607}, "y": {"value": 713}, "text": {"field": "t"}}},
    {"data": {"values": [{"t": "6.66%。"}]}, "mark": {"type": "text", "align": "left", "baseline": "middle", "fontSize": 13.3, "color": "#111111", "font": "Noto Sans CJK SC"}, "encoding": {"x": {"value": -15}, "y": {"value": 736}, "text": {"field": "t"}}},
    {"mark": {"type": "rule", "color": "#7F9FC4", "strokeWidth": 1.3}, "encoding": {"x": {"value": -21}, "x2": {"value": 610}, "y": {"value": 975}, "y2": {"value": 975}}},
    {"data": {"values": [{"t": "敬请参阅报告结尾处的免责声明"}]}, "mark": {"type": "text", "align": "left", "baseline": "middle", "fontSize": 8.5, "color": "#333333", "font": "Noto Sans CJK SC"}, "encoding": {"x": {"value": -20}, "y": {"value": 988}, "text": {"field": "t"}}},
    {"data": {"values": [{"t": "东方财智 兴盛之源"}]}, "mark": {"type": "text", "align": "right", "baseline": "middle", "fontSize": 8.5, "color": "#333333", "font": "Noto Sans CJK SC"}, "encoding": {"x": {"value": 610}, "y": {"value": 988}, "text": {"field": "t"}}}
   ]
  },
  {
   "width": 264, "height": 79,
   "data": {"values": [{}]},
   "layer": [
    {"data": {"values": [{"t": "东兴证券行业报告"}]}, "mark": {"type": "text", "align": "right", "baseline": "middle", "fontSize": 15, "fontWeight": "bold", "color": "#1F3A68", "font": "Noto Sans CJK SC"}, "encoding": {"x": {"value": 228}, "y": {"value": 77}, "text": {"field": "t"}}},
    {"data": {"values": [{"t": "非金属材料：着眼供给端变化，内需之重下政策推进行业估值修复"}]}, "mark": {"type": "text", "align": "right", "baseline": "middle", "fontSize": 9.3, "color": "#404040", "font": "Noto Sans CJK SC"}, "encoding": {"x": {"value": 228}, "y": {"value": 99}, "text": {"field": "t"}}},
    {"mark": {"type": "rule", "color": "#808080", "strokeWidth": 1.3}, "encoding": {"x": {"value": 240}, "x2": {"value": 240}, "y": {"value": 66}, "y2": {"value": 104}}},
    {"data": {"values": [{"t": "P3"}]}, "mark": {"type": "text", "align": "left", "baseline": "middle", "fontSize": 21, "color": "#7F7F7F", "font": "Liberation Sans"}, "encoding": {"x": {"value": 265}, "y": {"value": 86}, "text": {"field": "t"}}}
   ]
  },
  {
   "width": 264, "height": 126,
   "title": {"text": "图4：华东地区水泥煤炭价格差", "anchor": "start", "frame": "bounds", "offset": 16, "fontSize": 11, "fontWeight": "bold", "color": "#1F3A68", "font": "Noto Sans CJK SC"},
   "layer": [
    {"data": {"name": "d4"}, "mark": {"type": "line", "strokeWidth": 1.6},
     "encoding": {
      "x": {"field": "month", "type": "quantitative", "scale": {"domain": [0, 12], "nice": false}, "axis": {"title": null, "values": [0,1,2,3,4,5,6,7,8,9,10,11], "labelExpr": "['J','F','M','A','M','J','J','A','S','O','N','D'][datum.value]", "grid": false, "domainColor": "#8C8C8C", "tickColor": "#8C8C8C", "tickSize": 2, "labelFontSize": 5, "labelColor": "#595959", "labelPadding": 2, "labelFont": "Liberation Sans", "labelFlush": false, "labelOverlap": false}},
      "y": {"field": "value", "type": "quantitative", "scale": {"domain": [100, 450], "nice": false, "zero": false}, "axis": {"title": null, "values": [100,150,200,250,300,350,400,450], "grid": false, "domainColor": "#8C8C8C", "tickColor": "#8C8C8C", "tickSize": 2, "labelFontSize": 5, "labelColor": "#595959", "labelPadding": 4, "labelFont": "Liberation Sans", "labelFlush": false, "labelOverlap": false}},
      "color": {"field": "year", "type": "nominal", "scale": {"domain": ["2019","2020","2021","2022","2023","2024"], "range": ["#4A7EBB","#F79646","#9BBB59","#8064A2","#4BACC6","#C0161E"]}, "legend": {"title": null, "orient": "none", "direction": "horizontal", "legendX": 12, "legendY": 142.2, "columns": 2, "columnPadding": 3, "rowPadding": 2.5, "symbolType": "M-1.4,0H5.4", "symbolSize": 25, "symbolStrokeWidth": 1.5, "labelOffset": 12, "labelFontSize": 4.5, "labelColor": "#595959", "labelFont": "Noto Sans CJK SC", "labelLimit": 300, "padding": 0, "labelExpr": "datum.label + '年华东地区水泥煤炭价格差（元/吨）'"}},
      "strokeWidth": {"field": "year", "type": "nominal", "scale": {"domain": ["2019","2020","2021","2022","2023","2024"], "range": [1.6,1.6,1.6,1.6,1.6,2]}, "legend": null}
     }},
    {"data": {"values": [{"note": "资料来源：iFinD，东兴证券研究所"}]}, "mark": {"type": "text", "align": "left", "baseline": "middle", "fontSize": 8, "fontStyle": "italic", "color": "#404040", "font": "Noto Sans CJK SC"}, "encoding": {"x": {"value": -15}, "y": {"value": 192}, "text": {"field": "note"}}}
   ]
  },
  {
   "width": 264, "height": 120,
   "title": {"text": "图5：中南地区水泥煤炭价格差", "anchor": "start", "frame": "bounds", "offset": 16, "fontSize": 11, "fontWeight": "bold", "color": "#1F3A68", "font": "Noto Sans CJK SC"},
   "layer": [
    {"data": {"name": "d5"}, "mark": {"type": "line", "strokeWidth": 1.6},
     "encoding": {
      "x": {"field": "month", "type": "quantitative", "scale": {"domain": [0, 12], "nice": false}, "axis": {"title": null, "values": [0,1,2,3,4,5,6,7,8,9,10,11], "labelExpr": "['J','F','M','A','M','J','J','A','S','O','N','D'][datum.value]", "grid": false, "domainColor": "#8C8C8C", "tickColor": "#8C8C8C", "tickSize": 2, "labelFontSize": 5, "labelColor": "#595959", "labelPadding": 3, "labelFont": "Liberation Sans", "labelFlush": false, "labelOverlap": false}},
      "y": {"field": "value", "type": "quantitative", "scale": {"domain": [100, 400], "nice": false, "zero": false}, "axis": {"title": null, "values": [100,150,200,250,300,350,400], "grid": false, "domainColor": "#8C8C8C", "tickColor": "#8C8C8C", "tickSize": 2, "labelFontSize": 5, "labelColor": "#595959", "labelPadding": 4, "labelFont": "Liberation Sans", "labelFlush": false, "labelOverlap": false}},
      "color": {"field": "year", "type": "nominal", "scale": {"domain": ["2019","2020","2021","2022","2023","2024"], "range": ["#4A7EBB","#F79646","#9BBB59","#8064A2","#4BACC6","#C0161E"]}, "legend": {"title": null, "orient": "none", "direction": "horizontal", "legendX": 12, "legendY": 142.2, "columns": 2, "columnPadding": 5, "rowPadding": 2.5, "symbolType": "M-1.4,0H3.4", "symbolSize": 25, "symbolStrokeWidth": 1.5, "labelOffset": 6.5, "labelFontSize": 4.9, "labelColor": "#595959", "labelFont": "Noto Sans CJK SC", "labelLimit": 300, "padding": 0, "labelExpr": "datum.label + '年中南地区水泥煤炭价格差（元/吨）'"}},
      "strokeWidth": {"field": "year", "type": "nominal", "scale": {"domain": ["2019","2020","2021","2022","2023","2024"], "range": [1.6,1.6,1.6,1.6,1.6,2]}, "legend": null}
     }},
    {"data": {"values": [{"note": "资料来源：iFinD，东兴证券研究所"}]}, "mark": {"type": "text", "align": "left", "baseline": "middle", "fontSize": 8, "fontStyle": "italic", "color": "#404040", "font": "Noto Sans CJK SC"}, "encoding": {"x": {"value": -17}, "y": {"value": 192}, "text": {"field": "note"}}}
   ]
  },
  {
   "width": 264, "height": 126,
   "title": {"text": "图6：西南地区水泥煤炭价格差", "anchor": "start", "frame": "bounds", "offset": 16, "fontSize": 11, "fontWeight": "bold", "color": "#1F3A68", "font": "Noto Sans CJK SC"},
   "layer": [
    {"data": {"name": "d6"}, "mark": {"type": "line", "strokeWidth": 1.6},
     "encoding": {
      "x": {"field": "month", "type": "quantitative", "scale": {"domain": [0, 12], "nice": false}, "axis": {"title": null, "values": [0,1,2,3,4,5,6,7,8,9,10,11], "labelExpr": "['J','F','M','A','M','J','J','A','S','O','N','D'][datum.value]", "grid": false, "domainColor": "#8C8C8C", "tickColor": "#8C8C8C", "tickSize": 2, "labelFontSize": 5, "labelColor": "#595959", "labelPadding": 2.5, "labelFont": "Liberation Sans", "labelFlush": false, "labelOverlap": false}},
      "y": {"field": "value", "type": "quantitative", "scale": {"domain": [150, 450], "nice": false, "zero": false}, "axis": {"title": null, "values": [150,200,250,300,350,400,450], "grid": false, "domainColor": "#8C8C8C", "tickColor": "#8C8C8C", "tickSize": 2, "labelFontSize": 5, "labelColor": "#595959", "labelPadding": 4, "labelFont": "Liberation Sans", "labelFlush": false, "labelOverlap": false}},
      "color": {"field": "year", "type": "nominal", "scale": {"domain": ["2019","2020","2021","2022","2023","2024"], "range": ["#4A7EBB","#F79646","#9BBB59","#8064A2","#4BACC6","#C0161E"]}, "legend": {"title": null, "orient": "none", "direction": "horizontal", "legendX": 12, "legendY": 141.2, "columns": 2, "columnPadding": 5, "rowPadding": 2.3, "symbolType": "M-1.4,0H5.7", "symbolSize": 25, "symbolStrokeWidth": 1.5, "labelOffset": 12.7, "labelFontSize": 4.5, "labelColor": "#595959", "labelFont": "Noto Sans CJK SC", "labelLimit": 300, "padding": 0, "labelExpr": "datum.label + '年西南地区水泥煤炭价格差（元/吨）'"}},
      "strokeWidth": {"field": "year", "type": "nominal", "scale": {"domain": ["2019","2020","2021","2022","2023","2024"], "range": [1.6,1.6,1.6,1.6,1.6,2]}, "legend": null}
     }},
    {"data": {"values": [{"note": "资料来源：iFinD，东兴证券研究所"}]}, "mark": {"type": "text", "align": "left", "baseline": "middle", "fontSize": 8, "fontStyle": "italic", "color": "#404040", "font": "Noto Sans CJK SC"}, "encoding": {"x": {"value": -15}, "y": {"value": 192}, "text": {"field": "note"}}}
   ]
  },
  {
   "width": 264, "height": 122,
   "title": {"text": "图7：西北地区水泥煤炭价格差", "anchor": "start", "frame": "bounds", "offset": 14, "fontSize": 11, "fontWeight": "bold", "color": "#1F3A68", "font": "Noto Sans CJK SC"},
   "layer": [
    {"data": {"name": "d7"}, "mark": {"type": "line", "strokeWidth": 1.6},
     "encoding": {
      "x": {"field": "month", "type": "quantitative", "scale": {"domain": [0, 12], "nice": false}, "axis": {"title": null, "values": [0,1,2,3,4,5,6,7,8,9,10,11], "labelExpr": "['J','F','M','A','M','J','J','A','S','O','N','D'][datum.value]", "grid": false, "domainColor": "#A6A6A6", "tickColor": "#A6A6A6", "tickSize": 2, "labelFontSize": 7, "labelColor": "#404040", "labelPadding": 2, "labelFont": "Liberation Sans", "labelFlush": false, "labelOverlap": false}},
      "y": {"field": "value", "type": "quantitative", "scale": {"domain": [200, 300], "nice": false, "zero": false}, "axis": {"title": null, "values": [200,210,220,230,240,250,260,270,280,290,300], "grid": false, "domainColor": "#A6A6A6", "tickColor": "#A6A6A6", "tickSize": 2, "labelFontSize": 7, "labelColor": "#404040", "labelPadding": 4, "labelFont": "Liberation Sans", "labelFlush": false, "labelOverlap": false}},
      "color": {"field": "year", "type": "nominal", "scale": {"domain": ["2019","2020","2021","2022","2023","2024"], "range": ["#4A7EBB","#F79646","#9BBB59","#8064A2","#4BACC6","#C0161E"]}, "legend": {"title": null, "orient": "none", "direction": "horizontal", "legendX": 5, "legendY": 146, "columns": 2, "columnPadding": 5, "rowPadding": 1.2, "symbolType": "M-1.5,0H4.5", "symbolSize": 16, "symbolStrokeWidth": 2, "labelOffset": 7, "labelFontSize": 5.5, "labelColor": "#404040", "labelFont": "Noto Sans CJK SC", "labelLimit": 300, "padding": 0, "labelExpr": "datum.label + '年西北地区水泥煤炭价格差（元/吨）'"}},
      "strokeWidth": {"field": "year", "type": "nominal", "scale": {"domain": ["2019","2020","2021","2022","2023","2024"], "range": [1.6,1.6,1.6,1.6,1.6,2]}, "legend": null}
     }},
    {"data": {"values": [{"note": "资料来源：iFinD，东兴证券研究所"}]}, "mark": {"type": "text", "align": "left", "baseline": "middle", "fontSize": 8, "fontStyle": "italic", "color": "#404040", "font": "Noto Sans CJK SC"}, "encoding": {"x": {"value": -17}, "y": {"value": 192}, "text": {"field": "note"}}}
   ]
  }
 ]
}
